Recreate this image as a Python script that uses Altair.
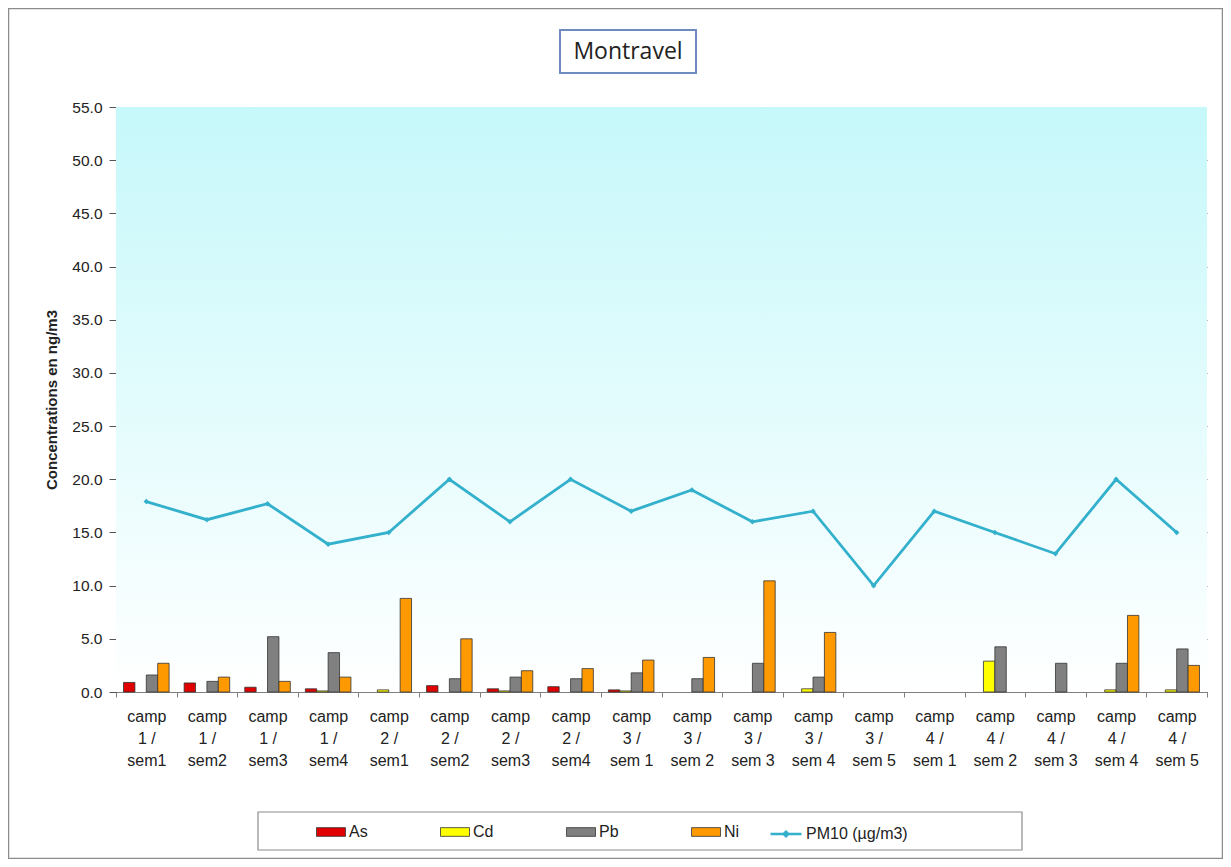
import altair as alt
import pandas as pd

categories = [
    "camp 1 / sem1", "camp 1 / sem2", "camp 1 / sem3", "camp 1 / sem4",
    "camp 2 / sem1", "camp 2 / sem2", "camp 2 / sem3", "camp 2 / sem4",
    "camp 3 / sem 1", "camp 3 / sem 2", "camp 3 / sem 3", "camp 3 / sem 4", "camp 3 / sem 5",
    "camp 4 / sem 1", "camp 4 / sem 2", "camp 4 / sem 3", "camp 4 / sem 4", "camp 4 / sem 5",
]
as_vals = [0.9, 0.85, 0.45, 0.3, 0.0, 0.6, 0.3, 0.5, 0.2, 0, 0, 0, 0, 0, 0, 0, 0, 0]
cd_vals = [0, 0, 0, 0.1, 0.2, 0, 0.1, 0, 0.1, 0, 0, 0.3, 0, 0, 2.9, 0, 0.2, 0.2]
pb_vals = [1.6, 1.0, 5.2, 3.7, 0, 1.25, 1.4, 1.25, 1.8, 1.25, 2.7, 1.4, 0, 0, 4.25, 2.7, 2.7, 4.05]
ni_vals = [2.7, 1.4, 1.0, 1.4, 8.8, 5.0, 2.0, 2.2, 3.0, 3.25, 10.45, 5.6, 0, 0, 0, 0, 7.2, 2.5]
pm10_vals = [17.9, 16.2, 17.7, 13.9, 15.0, 20.0, 16.0, 20.0, 17.0, 19.0, 16.0, 17.0, 10.0, 17.0, 15.0, 13.0, 20.0, 15.0]

metal_names = ["As", "Cd", "Pb", "Ni"]
metal_colors = ["#e00000", "#ffff00", "#808080", "#ff9900"]
pm_name = "PM10 (µg/m3)"
pm_color = "#33b0cc"
y_ticks = [0, 5, 10, 15, 20, 25, 30, 35, 40, 45, 50, 55]
title_text = "Montravel"
y_title = "Concentrations en ng/m3"

rows = []
for name, vals in zip(metal_names + [pm_name], [as_vals, cd_vals, pb_vals, ni_vals, pm10_vals]):
    for c, v in zip(categories, vals):
        rows.append({"cat": c, "series": name, "value": v})
df = pd.DataFrame(rows)
one = pd.DataFrame({"k": [0]})

W, H = 1091, 585

grad = alt.LinearGradient(
    gradient="linear",
    stops=[alt.GradientStop(color="#c6f8fa", offset=0), alt.GradientStop(color="#ffffff", offset=1)],
    x1=0, x2=0, y1=0, y2=1,
)

bg = alt.Chart(one).mark_rect(color=grad).encode(
    x=alt.value(0), x2=alt.value(W), y=alt.value(0), y2=alt.value(H)
)
outer = alt.Chart(one).mark_rect(fillOpacity=0, stroke="#8c8c8c", strokeWidth=1.5).encode(
    x=alt.value(-107.5), x2=alt.value(1106.5), y=alt.value(-98.5), y2=alt.value(751.5)
)
title_box = alt.Chart(one).mark_rect(fill="#ffffff", stroke="#6f8cc0", strokeWidth=2).encode(
    x=alt.value(444), x2=alt.value(580), y=alt.value(-77), y2=alt.value(-34)
)
title = alt.Chart(one).mark_text(
    text=title_text, font="Open Sans", fontSize=23, color="#222222", align="center", baseline="middle"
).encode(x=alt.value(512), y=alt.value(-55))
legend_box = alt.Chart(one).mark_rect(fill="#ffffff", stroke="#8c8c8c", strokeWidth=1.2).encode(
    x=alt.value(142), x2=alt.value(906), y=alt.value(705), y2=alt.value(743)
)

x_enc = alt.X(
    "cat:N", sort=categories, scale=alt.Scale(paddingInner=0, paddingOuter=0),
    axis=alt.Axis(
        title=None, labelAngle=0,
        labelExpr="datum.label ? ['camp', substring(datum.label, 5, 8), substring(datum.label, 9)] : ''",
        labelFontSize=16, labelLineHeight=22, labelFont="Liberation Sans", labelColor="#222222",
        labelPadding=11, tickBand="extent", tickSize=5, tickColor="#7f7f7f", domainColor="#7f7f7f",
        grid=False, labelLimit=200,
    ),
)
y_enc = alt.Y(
    "value:Q", scale=alt.Scale(domain=[0, 55], nice=False),
    axis=alt.Axis(
        values=y_ticks, format=".1f", grid=True, gridColor="#707070", gridWidth=1,
        gridOpacity={"condition": {"test": "datum.value === 55", "value": 0}, "value": 1},
        domainColor="#555555", tickColor="#555555", tickSize=7,
        labelFontSize=15.5, labelFont="Liberation Sans", labelColor="#222222", labelPadding=7,
        title=y_title, titleFontSize=15, titleFont="Liberation Sans", titleFontWeight="bold",
        titleColor="#222222", titlePadding=12,
    ),
)

bars = alt.Chart(df).transform_filter(
    alt.FieldOneOfPredicate(field="series", oneOf=metal_names)
).transform_filter("datum.value > 0").mark_bar(stroke="#333333", strokeWidth=0.8).encode(
    x=x_enc,
    xOffset=alt.XOffset("series:N", scale=alt.Scale(domain=metal_names, paddingInner=0, paddingOuter=0.66)),
    y=y_enc,
    color=alt.Color(
        "series:N",
        scale=alt.Scale(domain=metal_names, range=metal_colors),
        legend=alt.Legend(
            title=None, orient="none", legendX=200, legendY=710, direction="horizontal", columns=4,
            columnPadding=70, symbolSize=841, symbolType="M-1,-0.3H1V0.3H-1Z",
            symbolStrokeColor="#333333", symbolStrokeWidth=0.8,
            labelFontSize=16, labelFont="Liberation Sans", labelColor="#222222", labelOffset=3, padding=0,
        ),
    ),
)

line = alt.Chart(df).transform_filter(
    alt.FieldEqualPredicate(field="series", equal=pm_name)
).mark_line(strokeWidth=2.8, point=alt.OverlayMarkDef(shape="diamond", size=30, filled=True)).encode(
    x=alt.X("cat:N", sort=categories),
    y=alt.Y("value:Q"),
    color=alt.Color(
        "series:N",
        scale=alt.Scale(domain=[pm_name], range=[pm_color]),
        legend=alt.Legend(
            title=None, orient="none", legendX=653, legendY=710, direction="horizontal",
            symbolSize=961, symbolType="M-1,0H1M-0.15,0L0,-0.15L0.15,0L0,0.15Z",
            symbolStrokeColor=pm_color, symbolFillColor=pm_color, symbolStrokeWidth=2.5,
            labelFontSize=16, labelFont="Liberation Sans", labelColor="#222222", labelOffset=3, padding=0,
        ),
    ),
)

chart = alt.layer(bg, outer, title_box, title, legend_box, bars, line).resolve_scale(
    color="independent"
).properties(
    width=W, height=H,
    padding={"left": 108, "top": 99, "right": 16, "bottom": 167},
    autosize=alt.AutoSizeParams(type="none"),
    background="#ffffff",
).configure_view(strokeWidth=0)

chart.save("out.html", embed_options={"renderer": "svg", "actions": False})
